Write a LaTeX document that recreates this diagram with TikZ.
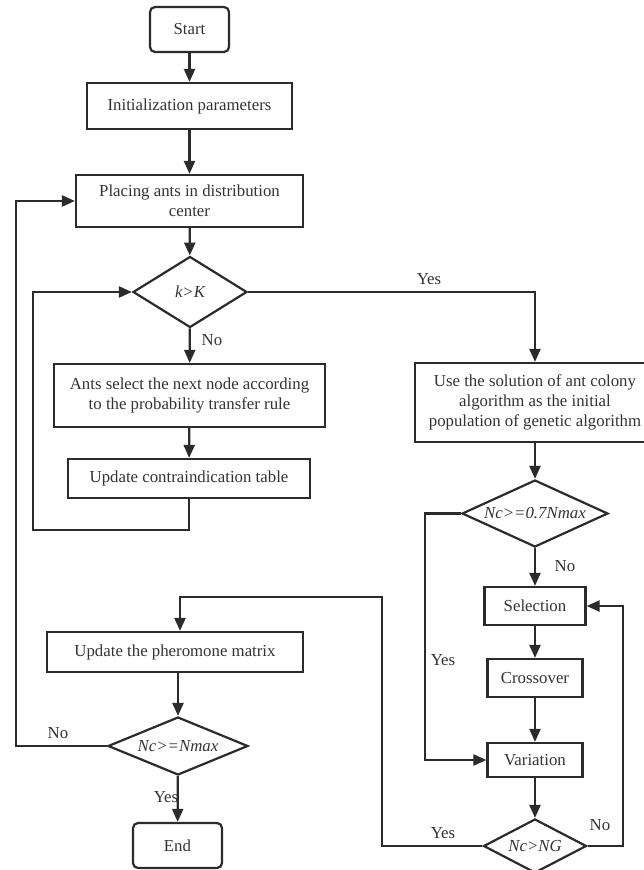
\documentclass[tikz,border=0pt]{standalone}
\usepackage{fontspec}
\setmainfont{Liberation Serif}
\usetikzlibrary{shapes.geometric,arrows.meta}
\definecolor{ink}{HTML}{2B2B2B}
\definecolor{txt}{HTML}{333333}
\begin{document}
\begin{tikzpicture}[x=1pt,y=-1pt,
  every node/.style={font=\fontsize{16.8}{20}\selectfont, text=txt},
  box/.style={draw=ink, line width=2.2pt, rectangle, inner sep=0pt, align=center},
  term/.style={box, rounded corners=5pt},
  dec/.style={draw=ink, line width=2.2pt, diamond, inner sep=0pt, font=\fontsize{16.8}{20}\selectfont\itshape},
  arr/.style={draw=ink, line width=2.2pt, -{Triangle[length=13pt,width=11pt]}},
  ln/.style={draw=ink, line width=2.2pt},
  lab/.style={inner sep=0pt}
]
\useasboundingbox (0,0) rectangle (643,870);

\node[term, minimum width=79pt, minimum height=45pt] (start) at (189.5,29.5) {Start};
\node[box, minimum width=205pt, minimum height=46pt] (init) at (189.5,106) {Initialization parameters};
\node[box, minimum width=227pt, minimum height=52pt] (place) at (189.5,201) {Placing ants in distribution\\center};
\node[dec, minimum width=114pt, minimum height=71pt, aspect=1.6] (kK) at (190,292) {k>K};
\node[box, minimum width=271pt, minimum height=63pt] (ants) at (189.5,395.5) {Ants select the next node according\\to the probability transfer rule};
\node[box, minimum width=242pt, minimum height=39pt] (contra) at (189,478.5) {Update contraindication table};

\node[box, minimum width=240pt, minimum height=79pt] (use) at (535,402.5) {Use the solution of ant colony\\algorithm as the initial\\population of genetic algorithm};
\node[dec, minimum width=146pt, minimum height=67pt, aspect=2.18] (d07) at (535,513.5) {Nc>=0.7Nmax};
\node[box, minimum width=101pt, minimum height=38pt] (sel) at (535,606) {Selection};
\node[box, minimum width=95pt, minimum height=38pt] (cross) at (535,678) {Crossover};
\node[box, minimum width=95pt, minimum height=34pt] (var) at (535,760) {Variation};
\node[dec, minimum width=103pt, minimum height=54pt, aspect=1.9] (dNG) at (535,846) {Nc>NG};

\node[box, minimum width=256pt, minimum height=40pt] (pher) at (175,652) {Update the pheromone matrix};
\node[dec, minimum width=140pt, minimum height=58pt, aspect=2.4] (dNmax) at (178,746) {Nc>=Nmax};
\node[term, minimum width=89pt, minimum height=45pt] (end) at (177.5,845.5) {End};

\coordinate (c1) at (535,292);
\coordinate (c2) at (189,530);
\coordinate (c3) at (33,530);
\coordinate (c4) at (33,292);
\coordinate (c5) at (425,513.5);
\coordinate (c6) at (425,760);
\coordinate (c7) at (623,846);
\coordinate (c8) at (623,606);
\coordinate (c9) at (382,846);
\coordinate (c10) at (382,597);
\coordinate (c11) at (180,597);
\coordinate (c12) at (16,746);
\coordinate (c13) at (16,201);

\draw[arr] (start) -- (init);
\draw[arr] (init) -- (place);
\draw[arr] (place) -- (kK);
\draw[arr] (kK.east) -- (c1) -- (use.north);
\draw[arr] (kK) -- (ants);
\draw[arr] (ants) -- (contra);
\draw[arr] (contra.south) -- (c2) -- (c3) -- (c4) -- (kK.west);
\draw[arr] (use) -- (d07);
\draw[arr] (d07) -- (sel);
\draw[arr] (d07.west) -- (c5) -- (c6) -- (var.west);
\draw[arr] (sel) -- (cross);
\draw[arr] (cross) -- (var);
\draw[arr] (var) -- (dNG);
\draw[arr] (dNG.east) -- (c7) -- (c8) -- (sel.east);
\draw[arr] (dNG.west) -- (c9) -- (c10) -- (c11) -- (c11 |- pher.north);
\draw[arr] (pher.south -| dNmax.north) -- (dNmax.north);
\draw[arr] (dNmax.west) -- (c12) -- (c13) -- (place.west);
\draw[arr] (dNmax) -- (end);

\node[lab] (yes1) at (429,279) {Yes};
\node[lab] (no1) at (212,340) {No};
\node[lab] (no2) at (565,566) {No};
\node[lab] (yes2) at (443,660) {Yes};
\node[lab] (no3) at (600,825) {No};
\node[lab] (yes3) at (443,833) {Yes};
\node[lab] (no4) at (58,733) {No};
\node[lab] (yes4) at (166,797) {Yes};
\end{tikzpicture}
\end{document}
